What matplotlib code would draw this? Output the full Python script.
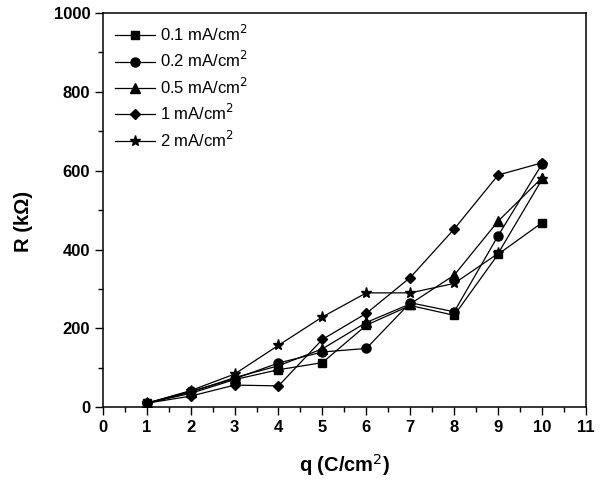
import matplotlib
matplotlib.use("Agg")
import matplotlib.pyplot as plt
from matplotlib.ticker import MultipleLocator

plt.rcParams['font.family'] = ['Liberation Sans', 'DejaVu Sans']

q = [1, 2, 3, 4, 5, 6, 7, 8, 9, 10]
r_01 = [10, 35, 70, 95, 113, 208, 258, 233, 388, 468]
r_02 = [10, 40, 72, 112, 140, 149, 265, 242, 435, 617]
r_05 = [10, 38, 75, 105, 148, 215, 262, 335, 472, 582]
r_1 = [10, 28, 56, 54, 172, 238, 329, 452, 589, 620]
r_2 = [10, 42, 84, 157, 229, 290, 290, 314, 390, 578]

labels = ["0.1 mA/cm$^2$", "0.2 mA/cm$^2$", "0.5 mA/cm$^2$", "1 mA/cm$^2$", "2 mA/cm$^2$"]
series = [r_01, r_02, r_05, r_1, r_2]
markers = ["s", "o", "^", "D", "*"]
msizes = [5.5, 6.5, 6.5, 5.5, 8]

fig = plt.figure(figsize=(6.01, 4.83), dpi=100)
ax = fig.add_axes([0.171, 0.157, 0.804, 0.816])

for ys, m, ms, lab in zip(series, markers, msizes, labels):
    ax.plot(q, ys, color="black", linewidth=0.9, marker=m, markersize=ms,
            markerfacecolor="black", markeredgecolor="black", label=lab)

ax.set_xlim(0, 11)
ax.set_ylim(0, 1000)
ax.xaxis.set_major_locator(MultipleLocator(1))
ax.xaxis.set_minor_locator(MultipleLocator(0.5))
ax.yaxis.set_major_locator(MultipleLocator(200))
ax.yaxis.set_minor_locator(MultipleLocator(100))
ax.tick_params(which="major", direction="out", length=6, width=1, labelsize=12, pad=3)
ax.tick_params(which="minor", direction="out", length=3.5, width=1)
ax.tick_params(top=False, right=False)
for lbl in ax.get_xticklabels() + ax.get_yticklabels():
    lbl.set_fontweight("bold")
for sp in ax.spines.values():
    sp.set_linewidth(1.1)

ax.set_xlabel("q (C/cm$^2$)", fontsize=14.5, fontweight="bold")
ax.set_ylabel("R (k\u03a9)", fontsize=14.5, fontweight="bold")
ax.xaxis.set_label_coords(0.5, -0.115)
ax.yaxis.set_label_coords(-0.145, 0.47)

leg = ax.legend(loc="upper left", bbox_to_anchor=(0.004, 0.998), frameon=False,
                fontsize=12, handlelength=2.4, handletextpad=0.3,
                labelspacing=0.38, borderaxespad=0.2)

fig.savefig("out.png", dpi=100)
